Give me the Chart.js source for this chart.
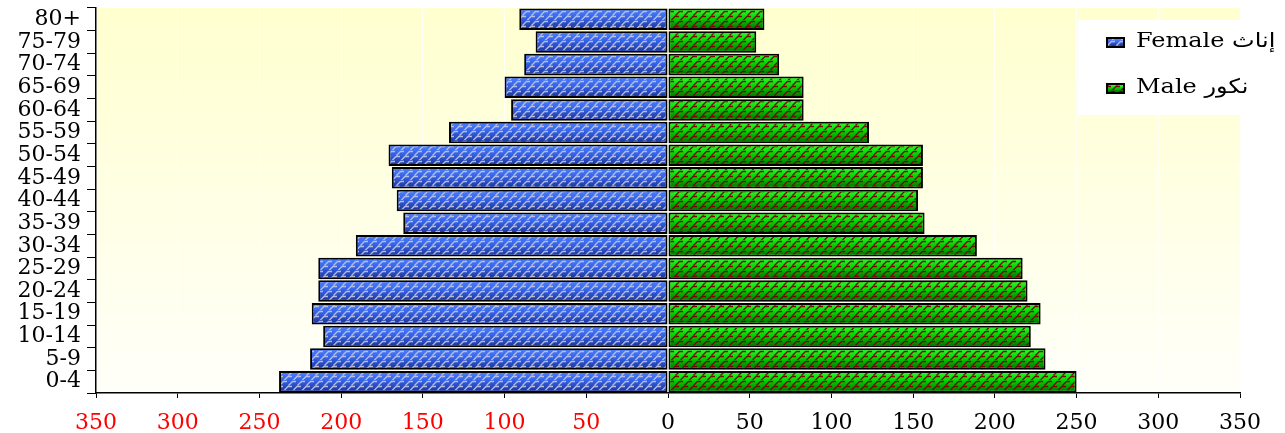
<!DOCTYPE html>
<html>
<head>
<meta charset="utf-8">
<script src="https://cdn.jsdelivr.net/npm/chart.js@4"></script>
<style>
  html, body { margin: 0; padding: 0; background: #fff; }
  canvas { display: block; }
</style>
</head>
<body>
<canvas id="pyramid" width="1285" height="433"></canvas>
<script>
// age groups, top to bottom
const ageGroups = ['80+', '75-79', '70-74', '65-69', '60-64', '55-59', '50-54', '45-49',
  '40-44', '35-39', '30-34', '25-29', '20-24', '15-19', '10-14', '5-9', '0-4'];
const female = [91, 81, 88, 100, 96, 134, 171, 169, 166, 162, 191, 214, 214, 218, 211, 219, 238];
const male = [59, 54, 68, 83, 83, 123, 156, 156, 153, 157, 189, 217, 220, 228, 222, 231, 250];
const xTicks = [-350, -300, -250, -200, -150, -100, -50, 0, 50, 100, 150, 200, 250, 300, 350];

const femaleLabel = 'Female إناث';
const maleLabel = 'Male نكور';

function makePattern(lineColor) {
  const c = document.createElement('canvas');
  c.width = 9; c.height = 10;
  const g = c.getContext('2d');
  g.strokeStyle = lineColor;
  g.lineWidth = 1.3;
  g.beginPath();
  g.moveTo(0.5, 5.5); g.lineTo(4.5, 1.5); g.lineTo(8, 1.5);
  g.moveTo(-4, 10.5); g.lineTo(0, 6.5); g.lineTo(4, 6.5);
  g.moveTo(5, 10.5); g.lineTo(9, 6.5); g.lineTo(13, 6.5);
  g.stroke();
  return g.createPattern(c, 'repeat');
}

const ctx = document.getElementById('pyramid').getContext('2d');
const fills = [
  { stops: ['#4f82ff', '#3462e8', '#1c3090'], pattern: makePattern('rgba(195,200,225,0.9)') },
  { stops: ['#30ff30', '#00d400', '#006a00'], pattern: makePattern('rgba(120,0,0,0.95)') }
];

function paintBox(c, f, left, top, w, h) {
  const grad = c.createLinearGradient(0, top, 0, top + h);
  grad.addColorStop(0, f.stops[0]);
  grad.addColorStop(0.45, f.stops[1]);
  grad.addColorStop(1, f.stops[2]);
  c.fillStyle = grad;
  c.fillRect(left, top, w, h);
  c.fillStyle = f.pattern;
  c.fillRect(left, top, w, h);
}

const plotBackground = {
  id: 'plotBackground',
  beforeDraw(chart) {
    const { ctx: c, chartArea: a } = chart;
    const grad = c.createLinearGradient(0, a.top, 0, a.bottom);
    grad.addColorStop(0, '#ffffcf');
    grad.addColorStop(1, '#fffffa');
    c.save();
    c.fillStyle = grad;
    c.fillRect(a.left, a.top, a.right - a.left, a.bottom - a.top);
    c.restore();
  }
};

// fills every bar with a gradient and the brick pattern, inside its black border
const barFill = {
  id: 'barFill',
  afterDatasetsDraw(chart) {
    const c = chart.ctx;
    chart.data.datasets.forEach((ds, di) => {
      chart.getDatasetMeta(di).data.forEach(bar => {
        const p = bar.getProps(['x', 'y', 'base', 'height'], true);
        const left = Math.min(p.x, p.base), right = Math.max(p.x, p.base);
        const top = p.y - p.height / 2;
        const bw = 2;
        c.save();
        c.beginPath();
        c.rect(left + bw, top + bw, right - left - 2 * bw, p.height - 2 * bw);
        c.clip();
        paintBox(c, fills[di], left, top, right - left, p.height);
        c.restore();
      });
    });
  }
};

const sideLegend = {
  id: 'sideLegend',
  afterDraw(chart) {
    const c = chart.ctx;
    const a = chart.chartArea;
    c.save();
    c.fillStyle = '#ffffff';
    c.fillRect(1078, 20, a.right - 1078 + 2, 95);
    c.font = '20px "DejaVu Serif", "DejaVu Sans", serif';
    c.textBaseline = 'alphabetic';
    const rows = [47, 93];
    chart.data.datasets.forEach((ds, i) => {
      const y = rows[i];
      c.fillStyle = '#000';
      c.fillRect(1106, y - 10, 19, 11);
      paintBox(c, fills[i], 1108, y - 8, 15, 7);
      c.save();
      c.translate(1136, y);
      c.scale(1.2, 1);
      c.fillStyle = '#000';
      c.fillText(ds.label, 0, 0);
      c.restore();
    });
    c.restore();
  }
};

Chart.defaults.font.family = '"DejaVu Serif", "Liberation Serif", serif';
Chart.defaults.color = '#000';

new Chart(ctx, {
  type: 'bar',
  data: {
    labels: ageGroups,
    datasets: [
      {
        label: femaleLabel,
        data: female.map(v => -v),
        backgroundColor: '#3462e8',
        borderColor: '#000',
        borderWidth: 2,
        borderSkipped: false
      },
      {
        label: maleLabel,
        data: male,
        backgroundColor: '#00d400',
        borderColor: '#000',
        borderWidth: 2,
        borderSkipped: false
      }
    ]
  },
  options: {
    indexAxis: 'y',
    responsive: false,
    animation: false,
    devicePixelRatio: 1,
    categoryPercentage: 0.95,
    barPercentage: 1,
    layout: { padding: { top: 8, right: 45, left: 0, bottom: 0 } },
    plugins: {
      legend: { display: false },
      tooltip: { enabled: false }
    },
    scales: {
      x: {
        stacked: true,
        min: xTicks[0],
        max: xTicks[xTicks.length - 1],
        afterBuildTicks(scale) { scale.ticks = xTicks.map(v => ({ value: v })); },
        afterFit(scale) {
          scale.height = 40;
          scale.paddingLeft = 0;
          scale.paddingRight = 0;
        },
        ticks: {
          callback: v => Math.abs(v),
          color: c => (c.tick && c.tick.value < 0) ? '#ff0000' : '#000',
          font: { size: 22 },
          padding: 12,
          maxRotation: 0,
          autoSkip: false
        },
        grid: {
          color: 'rgba(255,255,255,0.8)',
          lineWidth: 1,
          tickColor: '#000',
          tickLength: 5
        },
        border: { color: '#000', width: 1.5 }
      },
      y: {
        stacked: true,
        afterFit(scale) {
          scale.width = 96;
          scale.paddingTop = 0;
          scale.paddingBottom = 0;
        },
        ticks: {
          font: { size: 22 },
          padding: 6,
          autoSkip: false
        },
        grid: {
          drawOnChartArea: false,
          offset: true,
          tickColor: '#000',
          tickLength: 9
        },
        border: { color: '#000', width: 1.5 }
      }
    }
  },
  plugins: [plotBackground, barFill, sideLegend]
});
</script>
</body>
</html>
